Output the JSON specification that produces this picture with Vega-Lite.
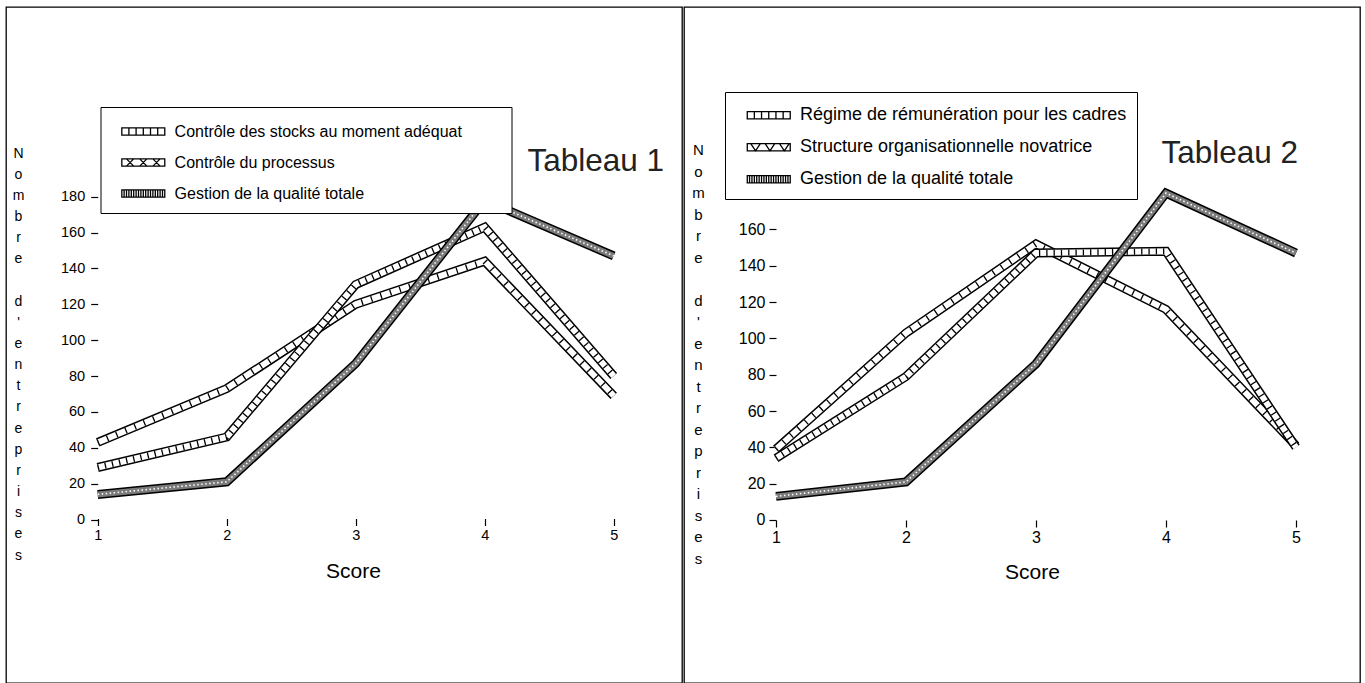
{
  "$schema": "https://vega.github.io/schema/vega-lite/v6.json",
  "padding": {"left": 5, "top": 6, "right": 4, "bottom": 0},
  "background": "white",
  "spacing": 0,
  "config": {
    "font": "Liberation Sans",
    "view": {"stroke": "black", "strokeWidth": 1.3},
    "axis": {"domain": false, "grid": false, "tickColor": "black", "tickWidth": 1.2, "labelColor": "black", "titleColor": "black", "titleFontWeight": "normal", "labelFont": "Liberation Sans", "titleFont": "Liberation Sans", "labelOverlap": false, "labelFlush": false, "labelBound": false},
    "legend": {"labelFont": "Liberation Sans", "labelColor": "black"}
  },
  "datasets": {
    "grid": [{"v": 20}, {"v": 40}, {"v": 60}, {"v": 80}, {"v": 100}, {"v": 120}, {"v": 140}, {"v": 160}, {"v": 180}],
    "t1": [
      {"s": "Contrôle des stocks au moment adéquat", "x": 1, "y": 43},
      {"s": "Contrôle des stocks au moment adéquat", "x": 2, "y": 73},
      {"s": "Contrôle des stocks au moment adéquat", "x": 3, "y": 120},
      {"s": "Contrôle des stocks au moment adéquat", "x": 4, "y": 144},
      {"s": "Contrôle des stocks au moment adéquat", "x": 5, "y": 69},
      {"s": "Contrôle du processus", "x": 1, "y": 29},
      {"s": "Contrôle du processus", "x": 2, "y": 46},
      {"s": "Contrôle du processus", "x": 3, "y": 131},
      {"s": "Contrôle du processus", "x": 4, "y": 163},
      {"s": "Contrôle du processus", "x": 5, "y": 80},
      {"s": "Gestion de la qualité totale", "x": 1, "y": 14},
      {"s": "Gestion de la qualité totale", "x": 2, "y": 21},
      {"s": "Gestion de la qualité totale", "x": 3, "y": 87},
      {"s": "Gestion de la qualité totale", "x": 4, "y": 178},
      {"s": "Gestion de la qualité totale", "x": 5, "y": 147}
    ],
    "t2": [
      {"s": "Régime de rémunération pour les cadres", "x": 1, "y": 39},
      {"s": "Régime de rémunération pour les cadres", "x": 2, "y": 103},
      {"s": "Régime de rémunération pour les cadres", "x": 3, "y": 152},
      {"s": "Régime de rémunération pour les cadres", "x": 4, "y": 116},
      {"s": "Régime de rémunération pour les cadres", "x": 5, "y": 41},
      {"s": "Structure organisationnelle novatrice", "x": 1, "y": 34},
      {"s": "Structure organisationnelle novatrice", "x": 2, "y": 79},
      {"s": "Structure organisationnelle novatrice", "x": 3, "y": 147},
      {"s": "Structure organisationnelle novatrice", "x": 4, "y": 148},
      {"s": "Structure organisationnelle novatrice", "x": 5, "y": 40},
      {"s": "Gestion de la qualité totale", "x": 1, "y": 13},
      {"s": "Gestion de la qualité totale", "x": 2, "y": 21},
      {"s": "Gestion de la qualité totale", "x": 3, "y": 86},
      {"s": "Gestion de la qualité totale", "x": 4, "y": 180},
      {"s": "Gestion de la qualité totale", "x": 5, "y": 147}
    ]
  },
  "resolve": {
    "scale": {"x": "independent", "y": "independent", "shape": "independent", "fill": "independent", "stroke": "independent"},
    "legend": {"shape": "independent", "fill": "independent", "stroke": "independent"}
  },
  "hconcat": [
    {
      "spacing": 0,
      "resolve": {
        "scale": {"shape": "shared", "fill": "shared", "stroke": "shared"},
        "legend": {"shape": "shared", "fill": "shared", "stroke": "shared"}
      },
      "hconcat": [
        {
          "width": 676,
          "height": 676,
          "title": {"text": "Tableau 1", "anchor": "end", "frame": "group", "orient": "top", "offset": 0, "dx": -18, "dy": 195, "baseline": "alphabetic", "fontSize": 31.5, "fontWeight": "normal", "color": "#222", "font": "Liberation Sans"},
          "encoding": {
            "x": {"field": "x", "type": "quantitative", "scale": {"domain": [0.28915, 5.5295], "nice": false, "zero": false},
              "axis": {"values": [1, 2, 3, 4, 5], "format": "d", "offset": -164.5, "tickSize": 7, "labelFontSize": 14.5, "labelPadding": 3, "title": "Score", "titleFontSize": 21, "titleX": 347, "titleY": 58.5, "titleBaseline": "alphabetic", "titleAlign": "center"}},
            "y": {"field": "y", "type": "quantitative", "scale": {"domain": [-91.17, 285.79], "nice": false, "zero": false},
              "axis": {"values": [0, 20, 40, 60, 80, 100, 120, 140, 160, 180], "format": "d", "offset": -91.7, "tickSize": 7, "labelFontSize": 14.5, "labelPadding": 6,
                "title": ["N", "o", "m", "b", "r", "e", "\u200b", "d", "'", "e", "n", "t", "r", "e", "p", "r", "i", "s", "e", "s"],
                "titleAngle": 0, "titleX": -79.7, "titleY": 150, "titleAlign": "center", "titleBaseline": "alphabetic", "titleFontSize": 14, "titleLineHeight": 21.16}}
          },
          "layer": [
            {"data": {"name": "grid"}, "mark": {"type": "rule", "strokeDash": [2, 8], "strokeWidth": 1.6, "color": "#333"},
              "encoding": {"x": {"datum": 1.077}, "x2": {"datum": 5.03}, "y": {"field": "v", "type": "quantitative"}}},
            {"data": {"values": [{}]}, "mark": {"type": "rule", "color": "black", "strokeWidth": 1.3},
              "encoding": {"x": {"datum": 1}, "y": {"datum": 0}, "y2": {"datum": 180}}},
            {"data": {"values": [{}]}, "mark": {"type": "rule", "color": "black", "strokeWidth": 1.3},
              "encoding": {"x": {"datum": 1}, "x2": {"datum": 5}, "y": {"datum": 0}}},
            {"data": {"name": "t1"}, "transform": [{"filter": "datum.s === 'Contrôle des stocks au moment adéquat'"}],
              "layer": [
                {"mark": {"type": "line", "color": "black", "strokeWidth": 9, "strokeJoin": "miter", "strokeCap": "butt"}},
                {"mark": {"type": "line", "color": "white", "strokeWidth": 6, "strokeJoin": "miter", "strokeCap": "butt"}},
                {"mark": {"type": "line", "color": "black", "strokeWidth": 6, "strokeDash": [1.3, 8.7], "strokeJoin": "miter", "strokeCap": "butt"}}
              ]},
            {"data": {"name": "t1"}, "transform": [{"filter": "datum.s === 'Contrôle du processus'"}],
              "layer": [
                {"mark": {"type": "line", "color": "black", "strokeWidth": 9, "strokeJoin": "miter", "strokeCap": "butt"}},
                {"mark": {"type": "line", "color": "white", "strokeWidth": 6, "strokeJoin": "miter", "strokeCap": "butt"}},
                {"mark": {"type": "line", "color": "black", "strokeWidth": 6, "strokeDash": [1.3, 6], "strokeJoin": "miter", "strokeCap": "butt"}}
              ]},
            {"data": {"name": "t1"}, "transform": [{"filter": "datum.s === 'Gestion de la qualité totale'"}],
              "layer": [
                {"mark": {"type": "line", "color": "black", "strokeWidth": 9, "strokeJoin": "miter", "strokeCap": "butt"}},
                {"mark": {"type": "line", "color": "#7a7a7a", "strokeWidth": 6, "strokeJoin": "miter", "strokeCap": "butt"}},
                {"mark": {"type": "line", "color": "white", "strokeWidth": 1.6, "strokeDash": [1.5, 2.5], "strokeJoin": "miter", "strokeCap": "butt"}}
              ]},
            {"data": {"name": "t1"}, "mark": {"type": "point", "filled": true, "opacity": 0, "strokeWidth": 1.3},
              "encoding": {
                "shape": {"field": "s", "type": "nominal",
                  "scale": {"domain": ["Contrôle des stocks au moment adéquat", "Contrôle du processus", "Gestion de la qualité totale"],
                    "range": ["M-1.79,-0.3H1.79V0.3H-1.79Z M-1.2,-0.3V0.3 M-0.6,-0.3V0.3 M0,-0.3V0.3 M0.6,-0.3V0.3 M1.2,-0.3V0.3",
                      "M-1.79,-0.3H1.79V0.3H-1.79Z M-1.4,-0.3L-0.8,0.3 M-1.4,0.3L-0.8,-0.3 M-0.3,-0.3L0.3,0.3 M-0.3,0.3L0.3,-0.3 M0.8,-0.3L1.4,0.3 M0.8,0.3L1.4,-0.3",
                      "M-1.79,-0.3H1.79V0.3H-1.79Z M-1.6,-0.3V0.3 M-1.4,-0.3V0.3 M-1.2,-0.3V0.3 M-1,-0.3V0.3 M-0.8,-0.3V0.3 M-0.6,-0.3V0.3 M-0.4,-0.3V0.3 M-0.2,-0.3V0.3 M0,-0.3V0.3 M0.2,-0.3V0.3 M0.4,-0.3V0.3 M0.6,-0.3V0.3 M0.8,-0.3V0.3 M1,-0.3V0.3 M1.2,-0.3V0.3 M1.4,-0.3V0.3 M1.6,-0.3V0.3"]},
                  "legend": {"title": ".", "titleOrient": "right", "titleColor": "white", "titleFontSize": 12, "titlePadding": 34, "orient": "none", "legendX": 94.5, "legendY": 100, "padding": 11.5, "rowPadding": 10, "strokeColor": "black", "fillColor": "white", "symbolSize": 576, "symbolStrokeWidth": 1.3, "symbolOffset": 18.3, "labelOffset": 18.3, "labelFontSize": 16, "labelLimit": 700}},
                "fill": {"field": "s", "type": "nominal",
                  "scale": {"domain": ["Contrôle des stocks au moment adéquat", "Contrôle du processus", "Gestion de la qualité totale"], "range": ["white", "white", "#8a8a8a"]},
                  "legend": {"title": ".", "titleOrient": "right", "titleColor": "white", "titleFontSize": 12, "titlePadding": 34, "orient": "none", "legendX": 94.5, "legendY": 100, "padding": 11.5, "rowPadding": 10, "strokeColor": "black", "fillColor": "white", "symbolSize": 576, "symbolStrokeWidth": 1.3, "symbolOffset": 18.3, "labelOffset": 18.3, "labelFontSize": 16, "labelLimit": 700}},
                "stroke": {"field": "s", "type": "nominal",
                  "scale": {"domain": ["Contrôle des stocks au moment adéquat", "Contrôle du processus", "Gestion de la qualité totale"], "range": ["black", "black", "black"]},
                  "legend": {"title": ".", "titleOrient": "right", "titleColor": "white", "titleFontSize": 12, "titlePadding": 34, "orient": "none", "legendX": 94.5, "legendY": 100, "padding": 11.5, "rowPadding": 10, "strokeColor": "black", "fillColor": "white", "symbolSize": 576, "symbolStrokeWidth": 1.3, "symbolOffset": 18.3, "labelOffset": 18.3, "labelFontSize": 16, "labelLimit": 700}}
              }}
          ]
        }
      ]
    },
    {
      "spacing": 0,
      "resolve": {
        "scale": {"shape": "shared", "fill": "shared", "stroke": "shared"},
        "legend": {"shape": "shared", "fill": "shared", "stroke": "shared"}
      },
      "hconcat": [
        {
          "width": 676,
          "height": 676,
          "title": {"text": "Tableau 2", "anchor": "end", "frame": "group", "orient": "top", "offset": 0, "dx": -62, "dy": 187, "baseline": "alphabetic", "fontSize": 31.5, "fontWeight": "normal", "color": "#222", "font": "Liberation Sans"},
          "encoding": {
            "x": {"field": "x", "type": "quantitative", "scale": {"domain": [0.29231, 5.4923], "nice": false, "zero": false},
              "axis": {"values": [1, 2, 3, 4, 5], "format": "d", "offset": -163, "tickSize": 7, "labelFontSize": 16, "labelPadding": 2, "title": "Score", "titleFontSize": 21, "titleX": 348, "titleY": 58, "titleBaseline": "alphabetic", "titleAlign": "center"}},
            "y": {"field": "y", "type": "quantitative", "scale": {"domain": [-89.76, 282.49], "nice": false, "zero": false},
              "axis": {"values": [0, 20, 40, 60, 80, 100, 120, 140, 160, 180], "format": "d", "offset": -92, "tickSize": 7, "labelFontSize": 16, "labelPadding": 4,
                "title": ["N", "o", "m", "b", "r", "e", "\u200b", "d", "'", "e", "n", "t", "r", "e", "p", "r", "i", "s", "e", "s"],
                "titleAngle": 0, "titleX": -78, "titleY": 147.5, "titleAlign": "center", "titleBaseline": "alphabetic", "titleFontSize": 15, "titleLineHeight": 21.5}}
          },
          "layer": [
            {"data": {"name": "grid"}, "mark": {"type": "rule", "strokeDash": [2, 8], "strokeWidth": 1.6, "color": "#333"},
              "encoding": {"x": {"datum": 1.077}, "x2": {"datum": 4.97}, "y": {"field": "v", "type": "quantitative"}}},
            {"data": {"values": [{}]}, "mark": {"type": "rule", "color": "black", "strokeWidth": 1.3},
              "encoding": {"x": {"datum": 1}, "y": {"datum": 0}, "y2": {"datum": 180}}},
            {"data": {"values": [{}]}, "mark": {"type": "rule", "color": "black", "strokeWidth": 1.3},
              "encoding": {"x": {"datum": 1}, "x2": {"datum": 5}, "y": {"datum": 0}}},
            {"data": {"name": "t2"}, "transform": [{"filter": "datum.s === 'Régime de rémunération pour les cadres'"}],
              "layer": [
                {"mark": {"type": "line", "color": "black", "strokeWidth": 9, "strokeJoin": "miter", "strokeCap": "butt"}},
                {"mark": {"type": "line", "color": "white", "strokeWidth": 6, "strokeJoin": "miter", "strokeCap": "butt"}},
                {"mark": {"type": "line", "color": "black", "strokeWidth": 6, "strokeDash": [1.3, 8.7], "strokeJoin": "miter", "strokeCap": "butt"}}
              ]},
            {"data": {"name": "t2"}, "transform": [{"filter": "datum.s === 'Structure organisationnelle novatrice'"}],
              "layer": [
                {"mark": {"type": "line", "color": "black", "strokeWidth": 9, "strokeJoin": "miter", "strokeCap": "butt"}},
                {"mark": {"type": "line", "color": "white", "strokeWidth": 6, "strokeJoin": "miter", "strokeCap": "butt"}},
                {"mark": {"type": "line", "color": "black", "strokeWidth": 6, "strokeDash": [1.3, 6], "strokeJoin": "miter", "strokeCap": "butt"}}
              ]},
            {"data": {"name": "t2"}, "transform": [{"filter": "datum.s === 'Gestion de la qualité totale'"}],
              "layer": [
                {"mark": {"type": "line", "color": "black", "strokeWidth": 9, "strokeJoin": "miter", "strokeCap": "butt"}},
                {"mark": {"type": "line", "color": "#7a7a7a", "strokeWidth": 6, "strokeJoin": "miter", "strokeCap": "butt"}},
                {"mark": {"type": "line", "color": "white", "strokeWidth": 1.6, "strokeDash": [1.5, 2.5], "strokeJoin": "miter", "strokeCap": "butt"}}
              ]},
            {"data": {"name": "t2"}, "mark": {"type": "point", "filled": true, "opacity": 0, "strokeWidth": 1.3},
              "encoding": {
                "shape": {"field": "s", "type": "nominal",
                  "scale": {"domain": ["Régime de rémunération pour les cadres", "Structure organisationnelle novatrice", "Gestion de la qualité totale"],
                    "range": ["M-1.79,-0.3H1.79V0.3H-1.79Z M-1.2,-0.3V0.3 M-0.6,-0.3V0.3 M0,-0.3V0.3 M0.6,-0.3V0.3 M1.2,-0.3V0.3",
                      "M-1.79,-0.3H1.79V0.3H-1.79Z M-1.5,-0.3L-1.1,0.3L-0.7,-0.3 M-0.3,-0.3L0.1,0.3L0.5,-0.3 M0.9,-0.3L1.3,0.3L1.7,-0.3",
                      "M-1.79,-0.3H1.79V0.3H-1.79Z M-1.6,-0.3V0.3 M-1.4,-0.3V0.3 M-1.2,-0.3V0.3 M-1,-0.3V0.3 M-0.8,-0.3V0.3 M-0.6,-0.3V0.3 M-0.4,-0.3V0.3 M-0.2,-0.3V0.3 M0,-0.3V0.3 M0.2,-0.3V0.3 M0.4,-0.3V0.3 M0.6,-0.3V0.3 M0.8,-0.3V0.3 M1,-0.3V0.3 M1.2,-0.3V0.3 M1.4,-0.3V0.3 M1.6,-0.3V0.3"]},
                  "legend": {"title": null, "orient": "none", "legendX": 41, "legendY": 85, "padding": 10.25, "rowPadding": 10, "strokeColor": "black", "fillColor": "white", "symbolSize": 576, "symbolStrokeWidth": 1.3, "symbolOffset": 20.5, "labelOffset": 18.25, "labelFontSize": 18, "labelLimit": 700}},
                "fill": {"field": "s", "type": "nominal",
                  "scale": {"domain": ["Régime de rémunération pour les cadres", "Structure organisationnelle novatrice", "Gestion de la qualité totale"], "range": ["white", "white", "#8a8a8a"]},
                  "legend": {"title": null, "orient": "none", "legendX": 41, "legendY": 85, "padding": 10.25, "rowPadding": 10, "strokeColor": "black", "fillColor": "white", "symbolSize": 576, "symbolStrokeWidth": 1.3, "symbolOffset": 20.5, "labelOffset": 18.25, "labelFontSize": 18, "labelLimit": 700}},
                "stroke": {"field": "s", "type": "nominal",
                  "scale": {"domain": ["Régime de rémunération pour les cadres", "Structure organisationnelle novatrice", "Gestion de la qualité totale"], "range": ["black", "black", "black"]},
                  "legend": {"title": null, "orient": "none", "legendX": 41, "legendY": 85, "padding": 10.25, "rowPadding": 10, "strokeColor": "black", "fillColor": "white", "symbolSize": 576, "symbolStrokeWidth": 1.3, "symbolOffset": 20.5, "labelOffset": 18.25, "labelFontSize": 18, "labelLimit": 700}}
              }}
          ]
        }
      ]
    }
  ]
}
